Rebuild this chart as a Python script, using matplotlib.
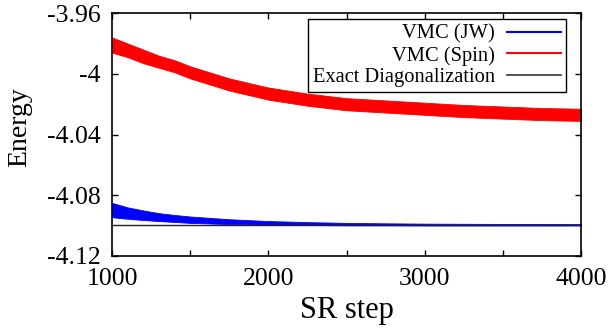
import numpy as np
import matplotlib
matplotlib.use("Agg")
import matplotlib.pyplot as plt

plt.rcParams['font.family'] = ['Liberation Serif', 'DejaVu Serif']
plt.rcParams['axes.unicode_minus'] = False

steps = [1000, 1100, 1200, 1300, 1400, 1500, 1750, 2000, 2250, 2500,
         2750, 3000, 3250, 3500, 3750, 4000]

# VMC (Spin) noisy band: upper / lower envelope
spin_hi = [-3.976, -3.980, -3.984, -3.988, -3.991, -3.995, -4.003, -4.009,
           -4.013, -4.016, -4.0175, -4.019, -4.0205, -4.0215, -4.0225, -4.023]
spin_lo = [-3.986, -3.989, -3.993, -3.996, -3.999, -4.003, -4.011, -4.017,
           -4.021, -4.024, -4.0255, -4.027, -4.0285, -4.0295, -4.0305, -4.031]

# VMC (JW) noisy band
jw_hi = [-4.0850, -4.0880, -4.0900, -4.0918, -4.0930, -4.0940, -4.0958, -4.0970,
         -4.0977, -4.0982, -4.0985, -4.0987, -4.0988, -4.0989, -4.0989, -4.0990]
jw_lo = [-4.0945, -4.0955, -4.0963, -4.0970, -4.0976, -4.0982, -4.0990, -4.0994,
         -4.0996, -4.0998, -4.0998, -4.0999, -4.0999, -4.0999, -4.0999, -4.0999]

exact_energy = -4.0997

fig = plt.figure(figsize=(6.09, 3.29), dpi=100)
ax = fig.add_axes([0.184, 0.222, 0.770, 0.738])

ax.fill_between(steps, jw_lo, jw_hi, color='#0000ff', lw=0.6, edgecolor='#0000ff')
ax.fill_between(steps, spin_lo, spin_hi, color='#ff0000', lw=0.6, edgecolor='#ff0000')
ax.axhline(exact_energy, color='#222222', lw=1.0)

# proxy lines for the legend
ax.plot([], [], color='#0000ff', lw=1.5, label='VMC (JW)')
ax.plot([], [], color='#ff0000', lw=1.5, label='VMC (Spin)')
ax.plot([], [], color='#333333', lw=1.2, label='Exact Diagonalization')

ax.set_xlim(1000, 4000)
ax.set_ylim(-4.12, -3.96)
ax.set_xticks(np.arange(1000, 4001, 500))
ax.set_xticklabels(['1000', '', '2000', '', '3000', '', '4000'])
ax.set_yticks([-4.12, -4.08, -4.04, -4.0, -3.96])
ax.set_yticklabels(['-4.12', '-4.08', '-4.04', '-4', '-3.96'])
ax.tick_params(direction='in', length=4, width=1, top=True, right=True,
               labelsize=18.5)
ax.tick_params(axis='x', pad=9)
ax.tick_params(axis='y', pad=8)
for s in ax.spines.values():
    s.set_linewidth(1.2)

ax.set_xlabel('SR step', fontsize=22)
ax.xaxis.set_label_coords(0.5, -0.165)
ax.set_ylabel('Energy', fontsize=20)
ax.yaxis.set_label_coords(-0.171, 0.531)

handles, labels = ax.get_legend_handles_labels()
leg = ax.legend(handles[-3:], labels[-3:], loc='upper right',
                bbox_to_anchor=(0.968, 0.975), borderaxespad=0,
                markerfirst=False, fontsize=14.8, handlelength=2.6,
                fancybox=False, framealpha=1, edgecolor='black',
                borderpad=0.25, labelspacing=0.1, handletextpad=0.6)
leg.get_frame().set_linewidth(1.0)

fig.savefig('out.png', dpi=100)
